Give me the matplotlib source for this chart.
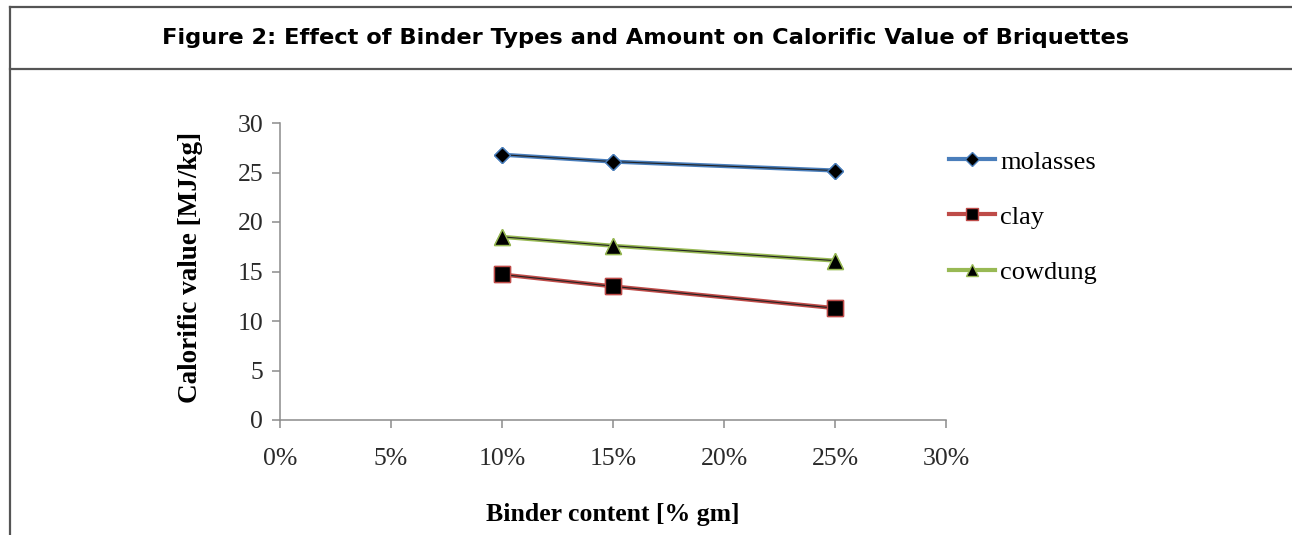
import matplotlib.pyplot as plt
from matplotlib.lines import Line2D
from matplotlib.ticker import FuncFormatter

# data
binder = [10, 15, 25]          # binder content, %
molasses = [26.8, 26.1, 25.2]
clay = [14.7, 13.5, 11.3]
cowdung = [18.5, 17.6, 16.1]

x_ticks = [0, 5, 10, 15, 20, 25, 30]
y_ticks = [0, 5, 10, 15, 20, 25, 30]

fig = plt.figure(figsize=(12.92, 5.35), dpi=100)

# frame of the figure box
border = '#555555'
fig.add_artist(Line2D([10 / 1292, 10 / 1292], [0, 1 - 7 / 535], color=border, lw=1.6))
fig.add_artist(Line2D([10 / 1292, 1], [1 - 7 / 535, 1 - 7 / 535], color=border, lw=1.6))
fig.add_artist(Line2D([10 / 1292, 1], [1 - 69 / 535, 1 - 69 / 535], color=border, lw=1.6))

fig.text(0.5, 1 - 38 / 535,
         'Figure 2: Effect of Binder Types and Amount on Calorific Value of Briquettes',
         ha='center', va='center', fontsize=16.2, fontweight='bold',
         family='DejaVu Sans')

ax = fig.add_axes([280 / 1292, 115 / 535, 666 / 1292, 297 / 535])

serif = 'Liberation Serif'
series = [
    ('molasses', molasses, '#4A7EBB', 'D', 8.5),
    ('clay', clay, '#BE4B48', 's', 11),
    ('cowdung', cowdung, '#98B954', '^', 11),
]
for name, vals, col, mk, ms in series:
    ax.plot(binder, vals, color=col, lw=3, marker=mk, ms=ms,
            markerfacecolor='black', markeredgecolor=col, mew=1,
            label=name, zorder=3)
    ax.plot(binder, vals, color='#222222', lw=0.8, zorder=3.5)
    ax.plot(binder, vals, ls='none', marker=mk, ms=ms,
            markerfacecolor='black', markeredgecolor=col, mew=1, zorder=4)

ax.set_xlim(0, 30)
ax.set_ylim(0, 30)
ax.set_xticks(x_ticks)
ax.set_yticks(y_ticks)
ax.xaxis.set_major_formatter(FuncFormatter(lambda v, p: '%d%%' % v))

for s in ['top', 'right']:
    ax.spines[s].set_visible(False)
for s in ['left', 'bottom']:
    ax.spines[s].set_color('#8c8c8c')
    ax.spines[s].set_linewidth(1.1)

ax.tick_params(axis='both', direction='out', length=6, width=1.1, color='#8c8c8c',
               labelsize=18.5, labelcolor='#2a2a2a')
ax.tick_params(axis='x', pad=14)
ax.tick_params(axis='y', pad=6)
for lab in ax.get_xticklabels() + ax.get_yticklabels():
    lab.set_family(serif)

ax.set_xlabel('Binder content [% gm]', family=serif, fontsize=18.5, fontweight='bold')
ax.xaxis.set_label_coords(0.5, -0.28)
ax.set_ylabel('Calorific value [MJ/kg]', family=serif, fontsize=19.5, fontweight='bold')
ax.yaxis.set_label_coords(-0.115, 0.515)

leg = ax.legend(loc='center left', bbox_to_anchor=(949 / 1292, 1 - 217 / 535),
                bbox_transform=fig.transFigure, frameon=False,
                prop={'family': serif, 'size': 19}, handlelength=1.75,
                handletextpad=0.2, labelspacing=1.2, markerscale=0.8,
                borderaxespad=0, borderpad=0)

plt.savefig('out.png', dpi=100)
